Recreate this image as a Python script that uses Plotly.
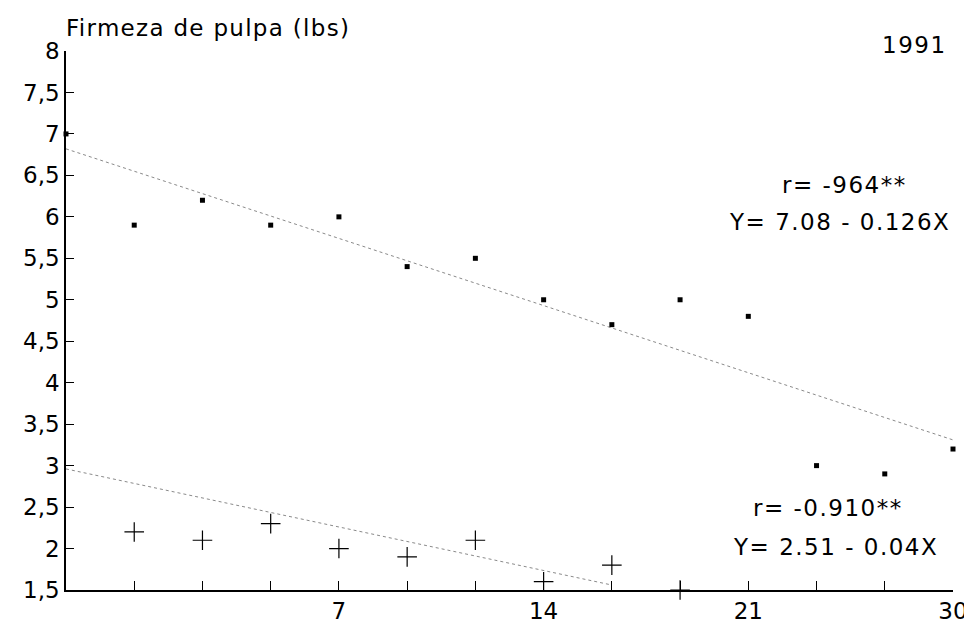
import numpy as np
import plotly.graph_objects as go

# Sampling positions (index along the x axis) and tick labels
sample_idx = list(range(0, 14))
tick_idx = list(range(1, 14))
tick_text = ["", "", "", "7", "", "", "14", "", "", "21", "", "", "30"]

# Upper series (small squares)
upper_vals = [7.0, 5.9, 6.2, 5.9, 6.0, 5.4, 5.5, 5.0, 4.7, 5.0, 4.8, 3.0, 2.9, 3.2]
# Lower series (crosses)
lower_idx = [1, 2, 3, 4, 5, 6, 7, 8, 9]
lower_vals = [2.2, 2.1, 2.3, 2.0, 1.9, 2.1, 1.6, 1.8, 1.5]

# Fitted lines (intercept, slope per x-step, x-span)
upper_fit = (6.82, -0.27, 0, 13)
lower_fit = (2.96, -0.175, 0, 8)

y_ticks = [1.5, 2, 2.5, 3, 3.5, 4, 4.5, 5, 5.5, 6, 6.5, 7, 7.5, 8]
y_text = ["1,5", "2", "2,5", "3", "3,5", "4", "4,5", "5", "5,5", "6", "6,5", "7", "7,5", "8"]

FONT = "DejaVu Sans"
FS = 23


def spaced(txt, px=1.5):
    return f'<span style="letter-spacing:{px}px">{txt}</span>'


fig = go.Figure()


def fit_line(fit):
    a, b, x0, x1 = fit
    xs = np.linspace(x0, x1, 50)
    return xs, a + b * xs


for fit in (upper_fit, lower_fit):
    xs, ys = fit_line(fit)
    fig.add_trace(go.Scatter(x=xs, y=ys, mode="lines",
                             line=dict(color="#8a8a8a", width=1, dash="dot"),
                             hoverinfo="skip", showlegend=False))

fig.add_trace(go.Scatter(x=sample_idx, y=upper_vals, mode="markers",
                         marker=dict(symbol="square", size=5, color="black"),
                         cliponaxis=False, showlegend=False))
fig.add_trace(go.Scatter(x=lower_idx, y=lower_vals, mode="markers",
                         marker=dict(symbol="cross-thin", size=14,
                                     line=dict(color="black", width=1.2)),
                         cliponaxis=False, showlegend=False))

fig.update_layout(
    width=972, height=628,
    margin=dict(l=58, r=19, t=43, b=43),
    paper_bgcolor="white", plot_bgcolor="white",
    font=dict(family=FONT, size=FS, color="black"),
    xaxis=dict(range=[0, 13], tickvals=tick_idx, ticktext=tick_text,
               ticks="inside", ticklen=9, tickwidth=1.2, tickcolor="black",
               showline=True, linecolor="black", linewidth=1.5,
               showgrid=False, zeroline=False,
               tickfont=dict(family=FONT, size=FS)),
    yaxis=dict(range=[1.5, 8], tickvals=y_ticks, ticktext=y_text,
               ticks="inside", ticklen=8, tickwidth=1.2, tickcolor="black",
               showline=True, linecolor="black", linewidth=1.5,
               showgrid=False, zeroline=False,
               tickfont=dict(family=FONT, size=FS)),
    annotations=[
        dict(text=spaced("Firmeza de pulpa (lbs)", 1.3), xref="paper", yref="paper",
             x=-0.002, y=1.043, xanchor="left", yanchor="middle",
             showarrow=False, font=dict(size=FS)),
        dict(text=spaced("1991", 1.5), xref="paper", yref="paper",
             x=0.995, y=1.011, xanchor="right", yanchor="middle",
             showarrow=False, font=dict(size=FS)),
        dict(text=spaced("r= -964**"), xref="paper", yref="paper",
             x=0.95, y=0.752, xanchor="right", yanchor="middle",
             showarrow=False, font=dict(size=FS)),
        dict(text=spaced("Y= 7.08 - 0.126X"), xref="paper", yref="paper",
             x=0.999, y=0.682, xanchor="right", yanchor="middle",
             showarrow=False, font=dict(size=FS)),
        dict(text=spaced("r= -0.910**"), xref="paper", yref="paper",
             x=0.946, y=0.153, xanchor="right", yanchor="middle",
             showarrow=False, font=dict(size=FS)),
        dict(text=spaced("Y= 2.51 - 0.04X"), xref="paper", yref="paper",
             x=0.985, y=0.079, xanchor="right", yanchor="middle",
             showarrow=False, font=dict(size=FS)),
    ],
)

fig.write_html("out.html")
